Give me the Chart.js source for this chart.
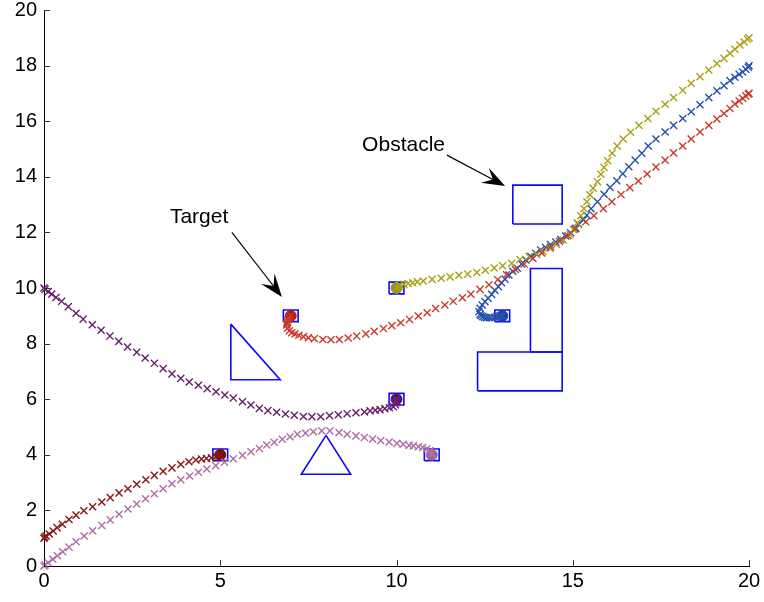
<!DOCTYPE html>
<html>
<head>
<meta charset="utf-8">
<script src="https://cdn.jsdelivr.net/npm/chart.js@4.4.1/dist/chart.umd.min.js"></script>
<style>
  html, body { margin: 0; padding: 0; background: #fff; }
  canvas { display: block; }
</style>
</head>
<body>
<canvas id="plot" width="764" height="602"></canvas>
<script>
// robot paths, [x, y] in plot units
const pathPurple = [[0,10],[0.03,9.95],[0.12,9.87],[0.22,9.78],[0.34,9.66],[0.50,9.52],[0.69,9.33],[0.91,9.09],[1.11,8.88],[1.37,8.68],[1.62,8.48],[1.87,8.27],[2.12,8.08],[2.37,7.88],[2.63,7.69],[2.87,7.48],[3.13,7.29],[3.38,7.10],[3.63,6.91],[3.88,6.75],[4.12,6.62],[4.38,6.50],[4.63,6.38],[4.88,6.27],[5.13,6.15],[5.37,6.04],[5.63,5.91],[5.87,5.79],[6.11,5.67],[6.35,5.59],[6.60,5.53],[6.85,5.47],[7.10,5.42],[7.36,5.38],[7.60,5.37],[7.85,5.37],[8.10,5.41],[8.35,5.44],[8.60,5.48],[8.85,5.51],[9.09,5.54],[9.25,5.58],[9.40,5.60],[9.53,5.62],[9.67,5.66],[9.80,5.69],[9.91,5.73],[9.97,5.80],[10.0,5.88],[10.0,5.94],[10.0,6.0]];
const pathPink = [[0,0],[0.03,0.04],[0.12,0.12],[0.25,0.24],[0.38,0.37],[0.53,0.51],[0.71,0.68],[0.91,0.87],[1.14,1.08],[1.38,1.27],[1.64,1.46],[1.88,1.66],[2.13,1.86],[2.38,2.05],[2.63,2.23],[2.88,2.42],[3.13,2.60],[3.38,2.78],[3.63,2.96],[3.88,3.10],[4.13,3.24],[4.38,3.37],[4.62,3.49],[4.87,3.61],[5.12,3.73],[5.37,3.86],[5.63,3.98],[5.87,4.11],[6.11,4.23],[6.32,4.35],[6.53,4.45],[6.76,4.56],[6.98,4.65],[7.19,4.74],[7.42,4.78],[7.64,4.83],[7.88,4.86],[8.11,4.86],[8.37,4.80],[8.60,4.74],[8.85,4.68],[9.09,4.62],[9.32,4.57],[9.55,4.51],[9.79,4.46],[10.01,4.41],[10.19,4.38],[10.36,4.34],[10.48,4.32],[10.62,4.29],[10.74,4.26],[10.86,4.21],[10.95,4.15],[10.98,4.07],[11.0,4.0]];
const pathMaroon = [[0,1],[0.02,1.04],[0.06,1.08],[0.15,1.15],[0.26,1.26],[0.37,1.38],[0.52,1.50],[0.71,1.67],[0.91,1.83],[1.13,1.99],[1.38,2.13],[1.64,2.30],[1.88,2.46],[2.13,2.63],[2.38,2.78],[2.63,2.94],[2.89,3.10],[3.13,3.26],[3.38,3.41],[3.63,3.53],[3.88,3.65],[4.11,3.75],[4.31,3.81],[4.47,3.85],[4.61,3.87],[4.75,3.89],[4.88,3.93],[4.96,3.97],[5.0,4.0]];
const pathRed = [[7.0,9.0],[6.96,8.93],[6.92,8.86],[6.90,8.79],[6.89,8.72],[6.89,8.67],[6.91,8.55],[6.96,8.46],[7.03,8.39],[7.12,8.35],[7.23,8.30],[7.36,8.25],[7.50,8.21],[7.67,8.18],[7.91,8.15],[8.14,8.14],[8.38,8.15],[8.63,8.20],[8.87,8.27],[9.13,8.35],[9.37,8.44],[9.63,8.54],[9.87,8.64],[10.12,8.75],[10.37,8.87],[10.62,8.99],[10.87,9.11],[11.11,9.26],[11.37,9.39],[11.61,9.52],[11.87,9.65],[12.11,9.78],[12.37,9.95],[12.62,10.12],[12.87,10.30],[13.12,10.48],[13.37,10.67],[13.62,10.86],[13.87,11.06],[14.12,11.26],[14.37,11.47],[14.62,11.68],[14.86,11.88],[15.06,12.12],[15.37,12.38],[15.60,12.60],[15.87,12.85],[16.11,13.10],[16.37,13.36],[16.62,13.61],[16.86,13.85],[17.11,14.10],[17.36,14.35],[17.62,14.60],[17.86,14.86],[18.12,15.11],[18.36,15.36],[18.61,15.61],[18.86,15.85],[19.09,16.08],[19.29,16.28],[19.46,16.46],[19.60,16.62],[19.72,16.73],[19.82,16.82],[19.91,16.91],[19.98,16.98],[20,17]];
const pathOlive = [[10,10],[10.05,10.06],[10.10,10.11],[10.21,10.13],[10.33,10.16],[10.46,10.19],[10.59,10.22],[10.76,10.25],[11.01,10.31],[11.27,10.35],[11.52,10.40],[11.77,10.46],[12.02,10.50],[12.28,10.56],[12.52,10.64],[12.77,10.72],[13.01,10.80],[13.27,10.89],[13.50,11.02],[13.76,11.13],[13.98,11.21],[14.16,11.31],[14.35,11.43],[14.54,11.57],[14.73,11.73],[14.92,11.91],[15.02,12.10],[15.13,12.35],[15.23,12.60],[15.32,12.85],[15.40,13.10],[15.49,13.35],[15.58,13.59],[15.70,13.82],[15.80,14.09],[15.89,14.34],[15.99,14.58],[16.12,14.85],[16.26,15.11],[16.43,15.36],[16.64,15.60],[16.88,15.85],[17.13,16.10],[17.36,16.36],[17.62,16.61],[17.86,16.85],[18.12,17.11],[18.36,17.36],[18.61,17.60],[18.86,17.84],[19.09,18.07],[19.29,18.26],[19.46,18.44],[19.60,18.59],[19.74,18.74],[19.86,18.85],[19.96,18.95],[20,19]];
const pathBlue = [[13,9],[12.93,8.99],[12.88,8.98],[12.84,8.97],[12.78,8.95],[12.70,8.93],[12.63,8.93],[12.56,8.93],[12.50,8.94],[12.45,8.97],[12.40,9.00],[12.37,9.05],[12.34,9.15],[12.37,9.27],[12.43,9.39],[12.51,9.51],[12.60,9.63],[12.70,9.77],[12.79,9.92],[12.89,10.05],[12.98,10.19],[13.08,10.32],[13.19,10.47],[13.30,10.60],[13.43,10.71],[13.55,10.86],[13.67,11.01],[13.81,11.13],[13.95,11.25],[14.09,11.37],[14.23,11.46],[14.37,11.56],[14.52,11.65],[14.66,11.74],[14.80,11.87],[14.94,11.99],[15.09,12.15],[15.16,12.30],[15.30,12.45],[15.40,12.62],[15.52,12.85],[15.70,13.10],[15.89,13.37],[16.06,13.62],[16.25,13.86],[16.42,14.11],[16.59,14.36],[16.77,14.60],[16.96,14.85],[17.14,15.11],[17.36,15.36],[17.62,15.61],[17.86,15.85],[18.12,16.10],[18.36,16.34],[18.61,16.59],[18.86,16.85],[19.09,17.09],[19.29,17.28],[19.46,17.46],[19.60,17.58],[19.72,17.69],[19.82,17.77],[19.91,17.87],[19.98,17.94],[20,18]];

const paths = [pathPurple, pathPink, pathMaroon, pathRed, pathOlive, pathBlue];
const pathColours = ["#6a1f6c", "#b16ca6", "#8a1616", "#c83a2c", "#aaa018", "#2452ac"];

// targets: centre of each small square, and the blob colour there
const goals = [[10, 6], [11, 4], [5, 4], [7, 9], [10, 10], [13, 9]];
const goalColours = ["#5a1060", "#a0608e", "#780c0c", "#b01e12", "#9a9212", "#1a42a0"];
const goalHalf = 0.21;

// obstacle outlines (corners)
const triangleA = [[5.3, 8.7], [5.3, 6.7], [6.7, 6.7]];
const triangleB = [[8.0, 4.7], [7.3, 3.3], [8.7, 3.3]];
const rectTop  = [[13.3, 12.3], [14.7, 12.3], [14.7, 13.7], [13.3, 13.7]];
const rectTall = [[13.8, 7.7], [14.7, 7.7], [14.7, 10.7], [13.8, 10.7]];
const rectWide = [[12.3, 6.3], [14.7, 6.3], [14.7, 7.7], [12.3, 7.7]];

const xTicks = [0, 5, 10, 15, 20];
const yTicks = [0, 2, 4, 6, 8, 10, 12, 14, 16, 18, 20];

const notes = [
    { text: "Target",   at: [4.40, 12.55], from: [5.33, 12.00],  to: [6.75, 9.68] },
    { text: "Obstacle", at: [10.2, 15.14], from: [11.43, 14.78], to: [13.08, 13.67] }
];

const font = '"Liberation Sans", Arial, Helvetica, sans-serif';

function toXY(list)
{
    return list.map(p => ({ x: p[0], y: p[1] }));
}

function closed(list)
{
    return toXY(list.concat([list[0]]));
}

function squareAt(c)
{
    const h = goalHalf;
    return [[c[0] - h, c[1] - h], [c[0] + h, c[1] - h], [c[0] + h, c[1] + h], [c[0] - h, c[1] + h]];
}

const datasets = [];

paths.forEach((p, i) => {
    datasets.push({
        data: toXY(p),
        showLine: false,
        pointStyle: "crossRot",
        pointRadius: 5,
        borderWidth: 1.4,
        borderColor: pathColours[i],
        backgroundColor: pathColours[i],
        clip: false
    });
});

datasets.push({
    data: toXY(goals),
    showLine: false,
    pointStyle: "circle",
    pointRadius: 5.5,
    borderWidth: 1,
    borderColor: goalColours,
    backgroundColor: goalColours,
    clip: false
});

const outlines = [triangleA, triangleB, rectTop, rectTall, rectWide].concat(goals.map(squareAt));
outlines.forEach(o => {
    datasets.push({
        data: closed(o),
        showLine: true,
        pointRadius: 0,
        borderColor: "#0a0aff",
        borderWidth: 1.6,
        tension: 0,
        fill: false,
        clip: false
    });
});

const extras = {
    id: "extras",
    afterDraw(chart)
    {
        const ctx = chart.ctx;
        const x = chart.scales.x;
        const y = chart.scales.y;
        const a = chart.chartArea;

        ctx.save();

        // MATLAB style ticks pointing into the plot
        ctx.strokeStyle = "#333";
        ctx.lineWidth = 1;
        ctx.beginPath();
        xTicks.forEach(v => {
            const px = Math.round(x.getPixelForValue(v)) + 0.5;
            ctx.moveTo(px, a.bottom);
            ctx.lineTo(px, a.bottom - 6);
        });
        yTicks.forEach(v => {
            const py = Math.round(y.getPixelForValue(v)) + 0.5;
            ctx.moveTo(a.left, py);
            ctx.lineTo(a.left + 6, py);
        });
        ctx.stroke();

        // text arrows
        ctx.fillStyle = "#000";
        ctx.strokeStyle = "#000";
        ctx.font = "21px " + font;
        ctx.textAlign = "center";
        ctx.textBaseline = "middle";
        notes.forEach(n => {
            ctx.fillText(n.text, x.getPixelForValue(n.at[0]), y.getPixelForValue(n.at[1]));

            const x0 = x.getPixelForValue(n.from[0]);
            const y0 = y.getPixelForValue(n.from[1]);
            const x1 = x.getPixelForValue(n.to[0]);
            const y1 = y.getPixelForValue(n.to[1]);
            const len = Math.hypot(x1 - x0, y1 - y0);
            const ux = (x1 - x0) / len;
            const uy = (y1 - y0) / len;
            const L = 23, W = 8.5;
            const bx = x1 - ux * L, by = y1 - uy * L;
            const nx = x1 - ux * L * 0.6, ny = y1 - uy * L * 0.6;

            ctx.lineWidth = 1.2;
            ctx.beginPath();
            ctx.moveTo(x0, y0);
            ctx.lineTo(nx, ny);
            ctx.stroke();

            ctx.beginPath();
            ctx.moveTo(x1, y1);
            ctx.lineTo(bx - uy * W, by + ux * W);
            ctx.lineTo(nx, ny);
            ctx.lineTo(bx + uy * W, by - ux * W);
            ctx.closePath();
            ctx.fill();
        });

        ctx.restore();
    }
};

new Chart(document.getElementById("plot"), {
    type: "scatter",
    data: { datasets: datasets },
    options: {
        responsive: false,
        animation: false,
        events: [],
        layout: { autoPadding: false, padding: { top: 10, right: 15, left: 0, bottom: 0 } },
        plugins: { legend: { display: false }, tooltip: { enabled: false } },
        scales: {
            x: {
                type: "linear",
                min: 0,
                max: 20,
                afterBuildTicks: s => { s.ticks = xTicks.map(v => ({ value: v })); },
                afterFit: s => { s.height = 36; s.paddingLeft = 0; s.paddingRight = 0; },
                grid: { display: false, drawTicks: false },
                border: { display: true, color: "#000", width: 1 },
                ticks: { color: "#000", padding: 3, maxRotation: 0, font: { family: font, size: 20 } }
            },
            y: {
                type: "linear",
                min: 0,
                max: 20,
                afterBuildTicks: s => { s.ticks = yTicks.map(v => ({ value: v })); },
                afterFit: s => { s.width = 44; s.paddingTop = 0; s.paddingBottom = 0; },
                grid: { display: false, drawTicks: false },
                border: { display: true, color: "#000", width: 1 },
                ticks: { color: "#000", padding: 7, font: { family: font, size: 20 } }
            }
        }
    },
    plugins: [extras]
});
</script>
</body>
</html>
